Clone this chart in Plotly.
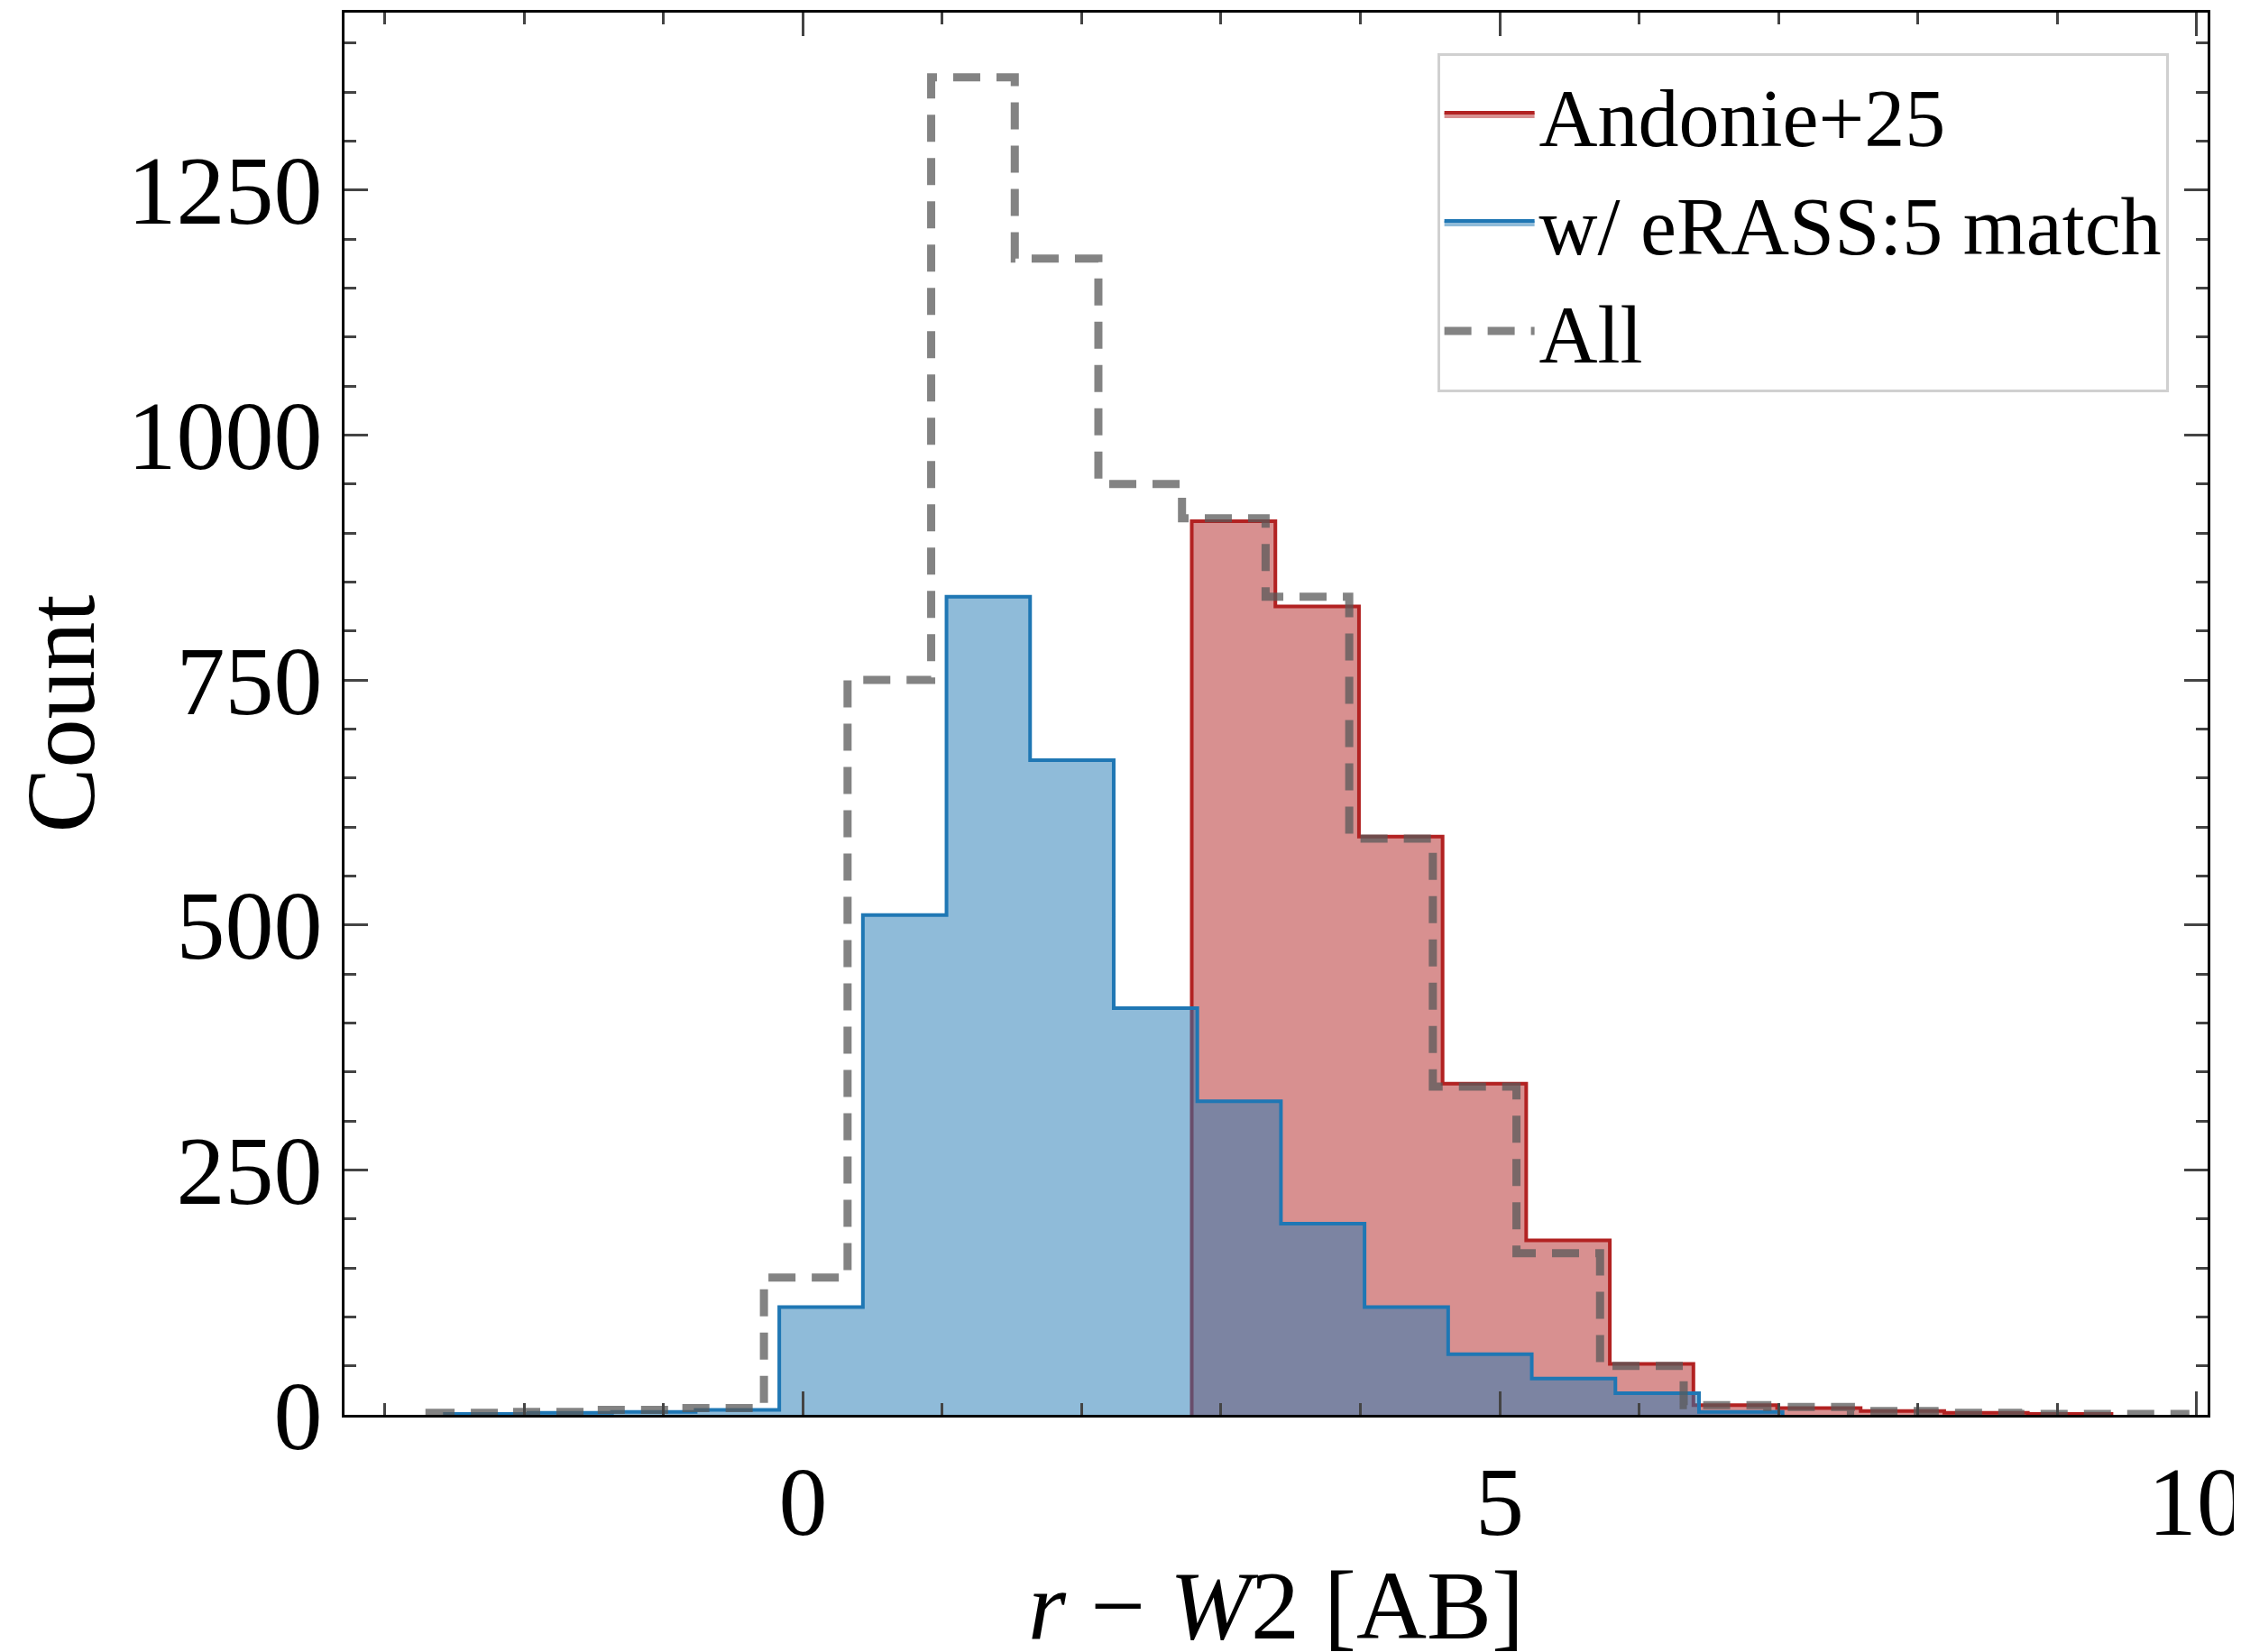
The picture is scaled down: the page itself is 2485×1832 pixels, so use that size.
import plotly.graph_objects as go

# histogram data (bin edges and counts)
all_edges = [-2.68 + 0.6 * k for k in range(22)]
all_counts = [2, 3, 5, 7, 140, 750, 1365, 1180, 950, 915, 835, 588, 335, 165, 50, 10, 8, 4, 2, 1, 1]

blue_edges = [-2.57 + 0.6 * k for k in range(17)]
blue_counts = [1, 2, 3, 5, 110, 510, 835, 668, 415, 320, 195, 110, 62, 37, 22, 3]

red_edges = [2.79 + 0.6 * k for k in range(12)]
red_counts = [912, 825, 590, 338, 178, 52, 10, 7, 4, 2, 1]


def steps(edges, counts):
    x = [edges[0]] + list(edges[:len(counts)]) + [edges[len(counts)]]
    y = [0] + list(counts) + [0]
    return x, y


FONT = "Liberation Serif"
fig = go.Figure()

x, y = steps(red_edges, red_counts)
fig.add_trace(go.Scatter(x=x, y=y, mode="lines", line=dict(shape="hv", color="#b22222", width=4),
                         fill="tozeroy", fillcolor="rgba(178,34,34,0.5)", name="Andonie+25"))
x, y = steps(blue_edges, blue_counts)
fig.add_trace(go.Scatter(x=x, y=y, mode="lines", line=dict(shape="hv", color="#1f77b4", width=4),
                         fill="tozeroy", fillcolor="rgba(31,119,180,0.5)", name="w/ eRASS:5 match"))
x, y = steps(all_edges, all_counts)
fig.add_trace(go.Scatter(x=x, y=y, mode="lines",
                         line=dict(shape="hv", color="rgba(90,90,90,0.75)", width=9, dash="30px,18px"),
                         name="All"))

axis = dict(ticks="inside", mirror="ticks", showline=True, linecolor="black", linewidth=3,
            tickwidth=3, ticklen=26, showgrid=False, zeroline=False,
            tickfont=dict(size=108, family=FONT, color="black"))
fig.update_xaxes(**axis, range=[-3.29, 10.08], tickvals=[0, 5, 10],
                 minor=dict(ticks="inside", dtick=1, ticklen=13, tickwidth=2.5, tick0=0),
                 title=dict(text="<i>r</i> − <i>W</i>2 [AB]", font=dict(size=108, family=FONT, color="black")))
fig.update_yaxes(**axis, range=[0, 1431], tickvals=[0, 250, 500, 750, 1000, 1250],
                 minor=dict(ticks="inside", dtick=50, ticklen=13, tickwidth=2.5, tick0=0),
                 title=dict(text="Count", font=dict(size=108, family=FONT, color="black"), standoff=10))

fig.update_layout(
    width=2485, height=1832, plot_bgcolor="white", paper_bgcolor="white",
    margin=dict(l=374, r=44, t=3, b=271),
    legend=dict(x=0.979, y=0.971, xanchor="right", yanchor="top", bgcolor="white",
                bordercolor="#d0d0d0", borderwidth=3, font=dict(size=90, family=FONT, color="black"),
                itemwidth=100, tracegroupgap=0),
)

fig.write_html("out.html")
